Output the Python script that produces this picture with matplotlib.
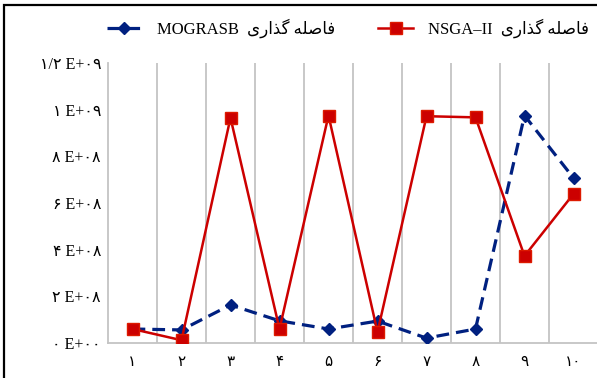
import matplotlib
matplotlib.use('Agg')
import matplotlib.pyplot as plt
from matplotlib.lines import Line2D

# data
runs = [1, 2, 3, 4, 5, 6, 7, 8, 9, 10]
run_labels = ['۱', '۲', '۳', '۴', '۵', '۶', '۷', '۸', '۹', '۱۰']
nsga = [6.0e7, 1.2e7, 9.65e8, 6.0e7, 9.75e8, 4.7e7, 9.72e8, 9.67e8, 3.73e8, 6.39e8]
mograsb = [6.0e7, 5.6e7, 1.63e8, 9.5e7, 6.0e7, 9.4e7, 2.1e7, 6.0e7, 9.75e8, 7.07e8]
y_ticks = [0, 2e8, 4e8, 6e8, 8e8, 1e9, 1.2e9]
y_labels = ['۰ E+۰۰', '۲ E+۰۸', '۴ E+۰۸', '۶ E+۰۸', '۸ E+۰۸', '۱ E+۰۹', '۱/۲ E+۰۹']

# "فاصله گذاری" in presentation forms, visual order (no shaping engine available)
fa_spacing = '\uFBFC\uFEAD\uFE8D\uFEAC\uFB94 \uFEEA\uFEE0\uFEBB\uFE8E\uFED3'
label_mog = 'MOGRASB  ' + fa_spacing
label_nsga = 'NSGA\u2013II  ' + fa_spacing

fams = ['Liberation Serif', 'DejaVu Sans']
plt.rcParams['font.family'] = fams

fig = plt.figure(figsize=(5.97, 3.78), dpi=100)
ax = fig.add_axes([108/597, 1-343/378, 490/597, 280/378])

ax.plot(runs, mograsb, color='#002080', lw=2.3, ls=(0, (4, 2.2)),
        marker='D', ms=6.5, label=label_mog, zorder=3)
ax.plot(runs, nsga, color='#cc0000', lw=1.8, marker='s', ms=8.5,
        mec='#dd1a00', label=label_nsga, zorder=4)

ax.set_xlim(0.5, 10.5)
ax.set_ylim(0, 1.2e9)
ax.set_xticks(runs)
ax.set_xticklabels(run_labels, fontsize=11)
ax.set_yticks(y_ticks)
ax.set_yticklabels(y_labels, fontsize=11.5)
ax.set_xticks([r + 0.5 for r in runs[:-1]], minor=True)
ax.tick_params(which='both', length=0)
ax.tick_params(axis='x', pad=9)
ax.tick_params(axis='y', pad=5)
ax.grid(which='minor', axis='x', color='#c4c4c4', lw=1.3)
for s in ['top', 'right']:
    ax.spines[s].set_visible(False)
for s in ['left', 'bottom']:
    ax.spines[s].set_color('#c4c4c4')
    ax.spines[s].set_linewidth(1.3)

fig.legend(loc='center', bbox_to_anchor=(348/597, 1-28/378), ncol=2,
           frameon=False, fontsize=12, handlelength=2.1, columnspacing=2.6,
           handletextpad=0.9)

# outer frame (left and top edges visible)
fig.add_artist(Line2D([4/597, 4/597, 1.01], [-0.01, 1-5/378, 1-5/378],
                      transform=fig.transFigure, color='black', lw=1.6,
                      solid_capstyle='butt', solid_joinstyle='miter'))

fig.savefig('out.png', dpi=100)
